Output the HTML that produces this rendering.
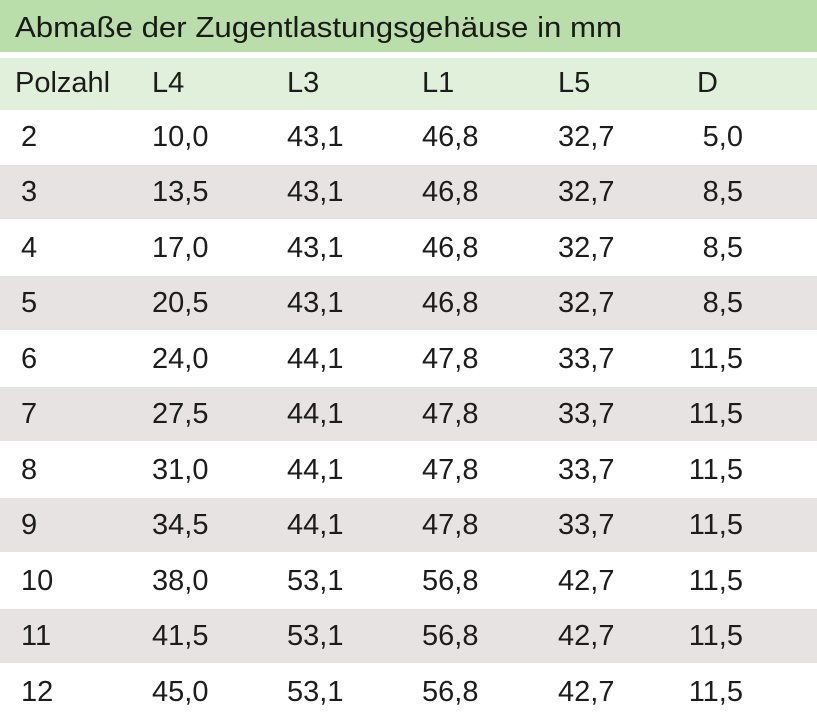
<!DOCTYPE html>
<html><head><meta charset="utf-8"><style>
body{margin:0;width:817px;height:720px;overflow:hidden;background:#fff;font-family:"Liberation Sans",sans-serif;color:#1c1c1c}
.r{position:absolute;left:0;width:817px}
.t{position:absolute;font-size:29px;line-height:1;white-space:nowrap}
</style></head><body>
<div class="r" style="top:0;height:52px;background:#b9dea9"></div>
<svg style="position:absolute;left:0;top:0" width="817" height="52"><text x="15" y="37" font-family="Liberation Sans" font-size="29" fill="#1a1a1a" textLength="607" lengthAdjust="spacingAndGlyphs">Abmaße der Zugentlastungsgehäuse in mm</text></svg>
<div class="r" style="top:58px;height:52px;background:#e1f0da"></div>
<div id="c"></div>
<script>
var rows=[["2","10,0","43,1","46,8","32,7","5,0"],["3","13,5","43,1","46,8","32,7","8,5"],["4","17,0","43,1","46,8","32,7","8,5"],["5","20,5","43,1","46,8","32,7","8,5"],["6","24,0","44,1","47,8","33,7","11,5"],["7","27,5","44,1","47,8","33,7","11,5"],["8","31,0","44,1","47,8","33,7","11,5"],["9","34,5","44,1","47,8","33,7","11,5"],["10","38,0","53,1","56,8","42,7","11,5"],["11","41,5","53,1","56,8","42,7","11,5"],["12","45,0","53,1","56,8","42,7","11,5"]];
var h='';
var hd=["Polzahl","L4","L3","L1","L5","D"],hx=[15,152,287,422,558,697];
hd.forEach(function(s,i){h+='<div class="t" style="left:'+hx[i]+'px;top:69px">'+s+'</div>';});
var xs=[21,152,287,422,558];
rows.forEach(function(r,k){var top=110+k*55.45;
 if(k%2==1)h+='<div class="r" style="top:'+top+'px;height:54px;background:#e6e3e2"></div>';
 var ty=top+13;
 for(var i=0;i<5;i++)h+='<div class="t" style="left:'+xs[i]+'px;top:'+ty+'px">'+r[i]+'</div>';
 h+='<div class="t" style="right:74px;top:'+ty+'px">'+r[5]+'</div>';
});
document.getElementById('c').innerHTML=h;
</script>
</body></html>
